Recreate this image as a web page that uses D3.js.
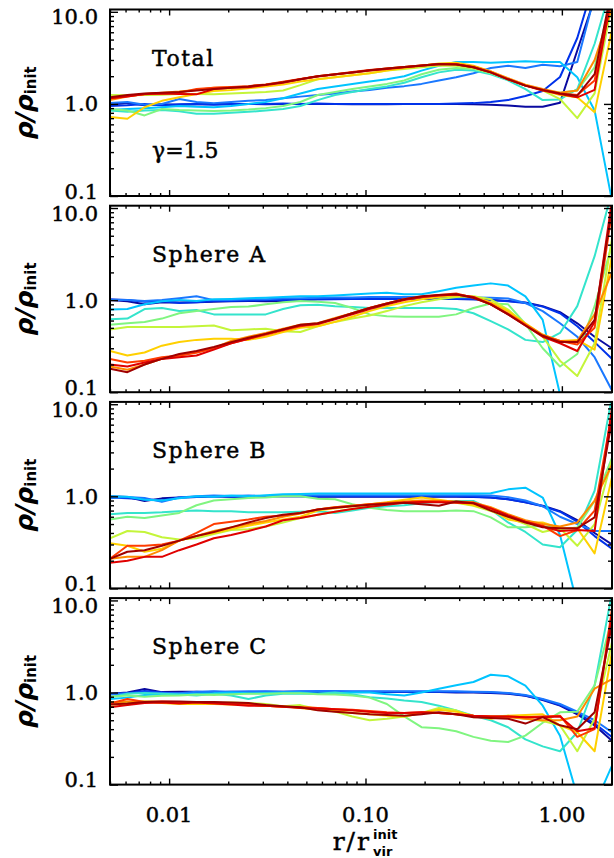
<!DOCTYPE html>
<html>
<head>
<meta charset="utf-8">
<script src="https://cdn.jsdelivr.net/npm/d3@7"></script>
<style>
  body { margin: 0; background: #fff; }
  svg { display: block; }
</style>
</head>
<body>
<svg id="chart" width="614" height="858"></svg>
<script>
// Radial bins (r / r_vir^init)
const rBins = [0.00500, 0.00613, 0.00750, 0.00919, 0.01126, 0.01379, 0.01689, 0.02069, 0.02535, 0.03105,
               0.03804, 0.04660, 0.05708, 0.06993, 0.08566, 0.1049, 0.1285, 0.1575, 0.1929, 0.2363,
               0.2895, 0.3546, 0.4344, 0.5322, 0.6519, 0.7986, 0.9783, 1.198, 1.468, 1.798];

// One colour per snapshot, early (blue) to late (dark red)
const seriesColors = ["#0a0aa0", "#0032ea", "#1a78ff", "#00c4ff", "#34e4cc", "#80f580",
                      "#c4f53a", "#ffd000", "#ff8a00", "#ff3c00", "#e00000", "#a00000"];

const panelLabels = ["Total", "Sphere A", "Sphere B", "Sphere C"];
const yTickValues = [0.1, 1, 10];
const yTickLabels = ["0.1", "1.0", "10.0"];
const xTickValues = [0.01, 0.1, 1];
const xTickLabels = ["0.01", "0.10", "1.00"];

// rho / rho_init profiles, one row per snapshot
const totalProfiles = [
  [0.98,1.02,0.97,0.99,0.98,0.99,1.0,0.99,1.0,0.99,1.0,1.0,1.0,1.0,0.99,0.99,0.99,1.0,1.0,1.0,1.0,0.99,0.98,0.96,0.93,0.93,1.03,3.8,14,30],
  [0.95,0.97,1.0,0.96,0.99,1.0,0.98,1.0,1.0,1.0,1.01,1.0,1.01,1.0,1.0,1.0,1.0,1.0,1.0,1.0,1.01,1.02,1.05,1.1,1.22,1.38,1.96,5.2,22,40],
  [1.02,1.05,0.98,1.0,1.13,1.05,1.02,1.05,1.08,1.1,1.15,1.2,1.25,1.3,1.36,1.42,1.5,1.56,1.65,1.8,1.95,2.15,2.45,2.6,2.45,2.66,2.57,2.85,15,30],
  [0.86,0.88,0.9,0.92,0.95,0.93,0.92,0.95,1.0,1.05,1.15,1.3,1.45,1.55,1.65,1.75,1.85,2.0,2.3,2.6,2.85,2.85,2.8,2.85,2.9,2.85,2.85,1.95,0.85,0.09],
  [0.85,0.82,0.85,0.86,0.83,0.78,0.78,0.8,0.82,0.85,0.88,0.95,1.1,1.25,1.35,1.45,1.55,1.7,1.95,2.2,2.35,2.3,2.1,1.8,1.45,1.1,1.12,1.45,4.5,20],
  [0.88,0.85,0.75,0.88,0.86,0.85,0.84,0.85,0.87,0.9,0.95,1.05,1.25,1.35,1.45,1.55,1.65,1.8,2.1,2.35,2.45,2.4,2.15,1.85,1.58,1.42,1.32,1.4,2.5,15],
  [1.25,1.24,1.25,1.26,1.28,1.28,1.27,1.3,1.32,1.35,1.4,1.6,1.85,1.95,2.05,2.15,2.3,2.4,2.5,2.6,2.6,2.45,2.2,1.85,1.6,1.4,1.13,0.70,1.3,12],
  [0.72,0.69,0.92,1.08,1.18,1.28,1.38,1.42,1.48,1.55,1.62,1.75,1.85,1.95,2.05,2.15,2.3,2.45,2.6,2.75,2.8,2.6,2.25,1.85,1.6,1.42,1.25,1.18,0.81,6.3],
  [1.1,1.2,1.28,1.32,1.36,1.42,1.5,1.52,1.55,1.62,1.72,1.85,2.0,2.1,2.2,2.3,2.42,2.52,2.62,2.72,2.72,2.55,2.25,1.9,1.62,1.45,1.32,1.4,3.0,11],
  [1.15,1.22,1.27,1.3,1.32,1.45,1.5,1.53,1.56,1.63,1.74,1.87,2.0,2.1,2.22,2.33,2.42,2.52,2.62,2.72,2.7,2.5,2.2,1.85,1.58,1.42,1.3,1.25,1.8,14],
  [1.15,1.2,1.28,1.3,1.28,1.27,1.45,1.5,1.52,1.6,1.7,1.85,1.98,2.08,2.2,2.3,2.4,2.5,2.6,2.7,2.7,2.5,2.2,1.85,1.58,1.4,1.28,1.18,1.42,16],
  [1.18,1.25,1.3,1.32,1.35,1.4,1.45,1.5,1.55,1.62,1.72,1.85,2.0,2.1,2.2,2.32,2.42,2.52,2.62,2.72,2.68,2.5,2.2,1.85,1.58,1.42,1.3,1.23,2.1,18]
];

const sphereAProfiles = [
  [1.0,0.97,0.9,0.95,0.94,0.95,0.96,0.97,0.98,0.97,0.98,1.0,1.02,1.03,1.03,1.03,1.03,1.03,1.03,1.03,1.03,1.02,1.0,0.98,0.94,0.86,0.74,0.56,0.4,0.3],
  [1.02,1.0,0.96,0.97,0.93,0.95,0.98,0.98,0.99,1.0,1.0,1.01,1.02,1.02,1.03,1.03,1.03,1.03,1.03,1.03,1.03,1.02,1.0,0.97,0.93,0.85,0.72,0.52,0.35,0.23],
  [1.0,1.0,0.98,1.0,1.05,1.1,1.0,1.0,1.02,1.02,1.05,1.05,1.06,1.07,1.07,1.08,1.08,1.08,1.08,1.08,1.07,1.07,1.06,1.04,0.93,0.76,0.56,0.40,0.24,0.105],
  [0.79,0.8,0.9,0.97,1.0,0.98,1.02,1.03,1.05,1.06,1.08,1.1,1.1,1.12,1.15,1.18,1.2,1.16,1.16,1.25,1.36,1.44,1.52,1.44,1.1,0.61,0.095,0.03,0.02,0.02],
  [0.62,0.63,0.8,0.82,0.76,0.78,0.7,0.7,0.7,0.7,0.8,0.88,0.89,0.86,0.84,0.82,0.82,0.82,0.82,0.82,0.8,0.72,0.59,0.48,0.37,0.35,0.44,0.86,3.0,15],
  [0.54,0.56,0.58,0.63,0.72,0.76,0.8,0.84,0.85,0.9,0.95,0.98,0.96,0.93,0.82,0.7,0.67,0.66,0.66,0.66,0.7,0.82,0.92,0.9,0.55,0.3,0.19,0.26,0.86,4.0],
  [0.48,0.51,0.51,0.51,0.51,0.52,0.53,0.47,0.48,0.49,0.46,0.45,0.52,0.58,0.63,0.68,0.76,0.86,0.95,1.02,1.08,1.1,1.02,0.79,0.54,0.40,0.22,0.15,0.34,4.6],
  [0.28,0.25,0.27,0.32,0.35,0.37,0.38,0.38,0.37,0.4,0.45,0.5,0.52,0.58,0.66,0.76,0.86,0.95,1.02,1.08,1.12,1.08,0.95,0.76,0.56,0.42,0.36,0.37,0.29,3.0],
  [0.19,0.175,0.2,0.23,0.25,0.27,0.3,0.36,0.4,0.44,0.49,0.54,0.56,0.64,0.72,0.82,0.92,1.02,1.08,1.12,1.15,1.08,0.92,0.72,0.55,0.42,0.36,0.36,0.7,2.0],
  [0.23,0.21,0.22,0.24,0.25,0.27,0.3,0.34,0.38,0.42,0.47,0.52,0.55,0.63,0.72,0.82,0.92,1.02,1.08,1.14,1.18,1.06,0.9,0.71,0.54,0.41,0.36,0.33,0.5,9],
  [0.2,0.19,0.21,0.23,0.24,0.25,0.29,0.34,0.38,0.43,0.48,0.53,0.55,0.62,0.7,0.8,0.9,1.0,1.08,1.12,1.15,1.08,0.9,0.7,0.53,0.4,0.34,0.28,0.58,12],
  [0.18,0.165,0.2,0.23,0.26,0.28,0.31,0.35,0.39,0.43,0.48,0.54,0.56,0.63,0.72,0.82,0.92,1.02,1.1,1.14,1.16,1.06,0.9,0.7,0.53,0.41,0.35,0.35,0.61,10]
];

const sphereBProfiles = [
  [1.0,0.98,0.89,0.95,0.97,0.98,1.0,0.99,1.0,1.0,1.0,1.0,0.99,0.99,0.99,0.99,0.99,0.99,0.99,0.99,0.99,0.98,0.97,0.93,0.86,0.79,0.69,0.55,0.4,0.3],
  [0.97,0.95,0.93,0.9,0.97,0.98,1.0,0.99,0.98,1.0,1.01,1.0,1.0,1.0,1.0,1.0,1.0,1.0,1.0,1.0,1.0,0.99,0.97,0.93,0.86,0.78,0.68,0.53,0.37,0.27],
  [0.95,0.98,0.96,0.87,0.97,1.0,1.02,1.01,1.02,1.0,1.02,1.03,1.03,1.03,1.03,1.03,1.03,1.03,1.03,1.03,1.03,1.03,1.02,0.98,0.9,0.78,0.6,0.5,0.42,0.42],
  [1.0,0.99,0.92,0.9,0.95,1.0,0.99,1.02,1.0,1.03,1.05,1.06,1.07,1.07,1.07,1.07,1.07,1.07,1.07,1.07,1.07,1.07,1.08,1.19,1.24,0.97,0.38,0.067,0.03,0.03],
  [0.64,0.66,0.66,0.67,0.69,0.7,0.69,0.69,0.67,0.67,0.67,0.68,0.69,0.66,0.7,0.75,0.78,0.8,0.84,0.88,0.89,0.89,0.72,0.52,0.41,0.3,0.28,0.43,1.15,12],
  [0.56,0.6,0.58,0.62,0.66,0.8,0.9,0.93,0.96,0.97,1.0,1.0,0.94,0.93,0.82,0.75,0.71,0.69,0.69,0.69,0.7,0.69,0.59,0.46,0.46,0.48,0.44,0.46,0.89,2.6],
  [0.35,0.42,0.41,0.36,0.34,0.35,0.39,0.43,0.44,0.47,0.52,0.58,0.63,0.68,0.73,0.79,0.83,0.86,0.89,0.89,0.85,0.79,0.69,0.59,0.5,0.41,0.45,0.29,0.5,2.5],
  [0.31,0.29,0.25,0.27,0.33,0.37,0.4,0.44,0.48,0.52,0.56,0.6,0.7,0.74,0.78,0.82,0.86,0.92,0.97,0.92,0.86,0.8,0.72,0.56,0.52,0.52,0.45,0.45,0.24,1.6],
  [0.21,0.22,0.22,0.26,0.33,0.37,0.42,0.46,0.5,0.54,0.6,0.65,0.72,0.76,0.79,0.82,0.85,0.88,0.9,0.89,0.88,0.86,0.76,0.64,0.55,0.5,0.47,0.52,0.9,2.2],
  [0.21,0.29,0.29,0.3,0.33,0.4,0.5,0.53,0.56,0.6,0.62,0.66,0.72,0.76,0.79,0.82,0.84,0.86,0.88,0.88,0.87,0.85,0.74,0.62,0.53,0.48,0.37,0.43,0.7,8],
  [0.19,0.2,0.22,0.22,0.26,0.3,0.35,0.38,0.42,0.47,0.55,0.58,0.63,0.68,0.73,0.77,0.81,0.85,0.87,0.86,0.85,0.84,0.74,0.62,0.53,0.47,0.42,0.43,0.42,9],
  [0.21,0.25,0.26,0.29,0.33,0.37,0.41,0.46,0.52,0.58,0.63,0.66,0.72,0.75,0.78,0.81,0.83,0.85,0.82,0.79,0.88,0.84,0.7,0.6,0.52,0.46,0.45,0.45,0.59,6.6]
];

const sphereCProfiles = [
  [0.97,1.0,1.09,1.01,1.02,1.02,1.0,1.02,1.01,1.02,1.02,1.02,1.01,1.01,1.01,1.01,1.01,1.01,1.01,1.01,1.0,1.0,0.99,0.97,0.92,0.83,0.72,0.58,0.44,0.3],
  [0.95,0.98,1.04,1.0,0.97,1.0,1.02,1.0,0.99,1.01,1.01,1.02,1.02,1.02,1.02,1.02,1.02,1.02,1.02,1.02,1.01,1.01,1.0,0.98,0.93,0.84,0.73,0.6,0.46,0.33],
  [0.96,0.98,1.0,0.99,0.98,1.02,1.03,1.02,1.03,1.03,1.02,1.03,1.04,1.04,1.03,1.03,1.03,1.03,1.03,1.03,1.03,1.02,1.01,0.99,0.94,0.85,0.75,0.62,0.5,0.37],
  [0.85,0.88,0.94,0.96,0.95,0.97,0.98,1.0,0.98,0.99,1.0,1.0,0.97,0.98,1.0,1.0,0.96,0.93,1.0,1.1,1.2,1.3,1.56,1.5,1.19,0.72,0.34,0.075,0.06,0.16],
  [0.89,0.97,0.99,0.97,0.95,0.93,0.97,0.93,0.85,0.93,0.97,0.97,0.97,1.0,0.96,0.89,0.86,0.82,0.79,0.72,0.64,0.56,0.5,0.42,0.31,0.26,0.23,0.37,1.2,12],
  [0.9,0.93,0.9,0.92,0.93,0.95,0.94,0.96,0.97,0.97,0.98,0.98,0.96,0.95,0.93,0.88,0.75,0.55,0.42,0.41,0.38,0.33,0.3,0.29,0.34,0.47,0.61,0.62,1.2,6.4],
  [0.76,0.78,0.8,0.79,0.77,0.77,0.77,0.78,0.77,0.75,0.71,0.73,0.66,0.62,0.55,0.5,0.52,0.55,0.6,0.68,0.64,0.54,0.55,0.56,0.52,0.49,0.44,0.23,0.52,3.5],
  [0.74,0.74,0.79,0.77,0.75,0.75,0.75,0.74,0.74,0.72,0.71,0.68,0.65,0.63,0.6,0.58,0.56,0.55,0.6,0.65,0.62,0.56,0.52,0.56,0.57,0.58,0.44,0.37,0.23,2.75],
  [0.78,0.8,0.8,0.79,0.78,0.78,0.77,0.76,0.74,0.72,0.7,0.69,0.68,0.66,0.64,0.62,0.6,0.6,0.6,0.6,0.58,0.56,0.55,0.54,0.52,0.5,0.5,0.55,1.1,1.4],
  [0.76,0.85,0.79,0.8,0.79,0.79,0.78,0.76,0.74,0.72,0.7,0.69,0.68,0.66,0.65,0.63,0.61,0.6,0.61,0.6,0.58,0.56,0.55,0.55,0.54,0.55,0.56,0.33,0.4,8],
  [0.69,0.73,0.77,0.78,0.76,0.78,0.76,0.74,0.72,0.72,0.7,0.68,0.67,0.66,0.64,0.62,0.6,0.6,0.61,0.6,0.58,0.56,0.55,0.55,0.54,0.54,0.55,0.38,0.41,7],
  [0.74,0.76,0.79,0.8,0.8,0.79,0.79,0.78,0.77,0.73,0.71,0.69,0.64,0.62,0.6,0.58,0.57,0.56,0.58,0.61,0.58,0.54,0.53,0.52,0.46,0.54,0.44,0.4,0.61,5.4]
];

const panelProfiles = [totalProfiles, sphereAProfiles, sphereBProfiles, sphereCProfiles];

// ---- layout ----
const svg = d3.select("#chart");
const plotLeft = 110, plotRight = 612;
const panelTop0 = 9.5, panelStep = 196.2, panelHeight = 186.5;
const serif = "'DejaVu Serif', serif";

const x = d3.scaleLog().domain([0.005, 1.8]).range([plotLeft, plotRight]);

const xMinor = [];
[0.001, 0.01, 0.1, 1].forEach(dec => { for (let k = 2; k <= 9; k++) xMinor.push(dec * k); });
const xMinorIn = xMinor.filter(v => v >= 0.005 && v <= 1.8);
const yMinor = [];
[0.1, 1].forEach(dec => { for (let k = 2; k <= 9; k++) yMinor.push(dec * k); });

const line = (y) => d3.line()
  .x((d, i) => x(rBins[i]))
  .y(d => y(d));

// slightly heavier serif text
const heavy = sel => sel.attr("stroke", "#000").attr("stroke-width", 0.45);

panelProfiles.forEach((profiles, p) => {
  const top = panelTop0 + p * panelStep;
  const bottom = top + panelHeight;
  const y = d3.scaleLog().domain([0.1, 10.6]).range([bottom, top]);
  const g = svg.append("g");

  const clipId = "clip" + p;
  svg.append("clipPath").attr("id", clipId)
    .append("rect").attr("x", plotLeft).attr("y", top)
    .attr("width", plotRight - plotLeft).attr("height", panelHeight);

  // profiles
  const lg = g.append("g").attr("clip-path", `url(#${clipId})`);
  profiles.forEach((vals, s) => {
    lg.append("path")
      .attr("d", line(y)(vals))
      .attr("fill", "none")
      .attr("stroke", seriesColors[s])
      .attr("stroke-width", 2)
      .attr("stroke-linejoin", "round");
  });

  // inward ticks on all four sides
  const tickStyle = sel => sel.call(s => s.select(".domain").remove())
    .selectAll("line").attr("stroke", "#000").attr("stroke-width", 1.4);
  g.append("g").attr("transform", `translate(0,${bottom})`)
    .call(d3.axisBottom(x).tickValues(xTickValues).tickSize(-6).tickFormat("")).call(tickStyle);
  g.append("g").attr("transform", `translate(0,${bottom})`)
    .call(d3.axisBottom(x).tickValues(xMinorIn).tickSize(-3).tickFormat("")).call(tickStyle);
  g.append("g").attr("transform", `translate(0,${top})`)
    .call(d3.axisTop(x).tickValues(xTickValues).tickSize(-6).tickFormat("")).call(tickStyle);
  g.append("g").attr("transform", `translate(0,${top})`)
    .call(d3.axisTop(x).tickValues(xMinorIn).tickSize(-3).tickFormat("")).call(tickStyle);
  g.append("g").attr("transform", `translate(${plotLeft},0)`)
    .call(d3.axisLeft(y).tickValues(yTickValues).tickSize(-8).tickFormat("")).call(tickStyle);
  g.append("g").attr("transform", `translate(${plotLeft},0)`)
    .call(d3.axisLeft(y).tickValues(yMinor).tickSize(-4).tickFormat("")).call(tickStyle);
  g.append("g").attr("transform", `translate(${plotRight},0)`)
    .call(d3.axisRight(y).tickValues(yTickValues).tickSize(-8).tickFormat("")).call(tickStyle);
  g.append("g").attr("transform", `translate(${plotRight},0)`)
    .call(d3.axisRight(y).tickValues(yMinor).tickSize(-4).tickFormat("")).call(tickStyle);

  // frame
  g.append("rect").attr("x", plotLeft).attr("y", top)
    .attr("width", plotRight - plotLeft).attr("height", panelHeight)
    .attr("fill", "none").attr("stroke", "#000").attr("stroke-width", 2);

  // y tick labels
  const labelShift = [-5, 0, 5];
  yTickValues.forEach((v, k) => {
    g.append("text")
      .attr("x", 98).attr("y", y(v) + labelShift[k] + 7.5)
      .attr("text-anchor", "end")
      .attr("font-family", serif).attr("font-size", 21)
      .call(heavy)
      .text(yTickLabels[k]);
  });

  // y axis title
  const yt = g.append("text")
    .attr("transform", `translate(33,${(top + bottom) / 2}) rotate(-90)`)
    .attr("text-anchor", "middle")
    .attr("font-family", "'DejaVu Sans', sans-serif")
    .attr("font-weight", "bold");
  yt.append("tspan").attr("font-size", 25).attr("font-style", "italic").text("ρ/ρ");
  yt.append("tspan").attr("font-size", 15).attr("dy", 3).text("init");

  // panel label
  g.append("text")
    .attr("x", 152).attr("y", top + 56)
    .attr("font-family", serif).attr("font-size", 22)
    .attr("letter-spacing", 1.5)
    .call(heavy)
    .text(panelLabels[p]);

  if (p === 0) {
    g.append("text")
      .attr("x", 152).attr("y", top + 148)
      .attr("font-family", serif).attr("font-size", 22)
      .call(heavy)
      .text("γ=1.5");
  }

  if (p === panelProfiles.length - 1) {
    xTickValues.forEach((v, k) => {
      g.append("text")
        .attr("x", x(v)).attr("y", 822)
        .attr("text-anchor", "middle")
        .attr("font-family", serif).attr("font-size", 21)
        .call(heavy)
        .text(xTickLabels[k]);
    });
    // x axis title: r / r_vir^init
    g.append("text")
      .attr("x", 371).attr("y", 850)
      .attr("text-anchor", "end")
      .attr("font-family", serif).attr("font-size", 25)
      .attr("letter-spacing", 2)
      .call(heavy)
      .text("r/r");
    g.append("text")
      .attr("x", 373).attr("y", 839)
      .attr("font-family", "'DejaVu Sans', sans-serif").attr("font-weight", "bold")
      .attr("font-size", 13)
      .text("init");
    g.append("text")
      .attr("x", 373).attr("y", 856)
      .attr("font-family", "'DejaVu Sans', sans-serif").attr("font-weight", "bold")
      .attr("font-size", 13)
      .text("vir");
  }
});
</script>
</body>
</html>
